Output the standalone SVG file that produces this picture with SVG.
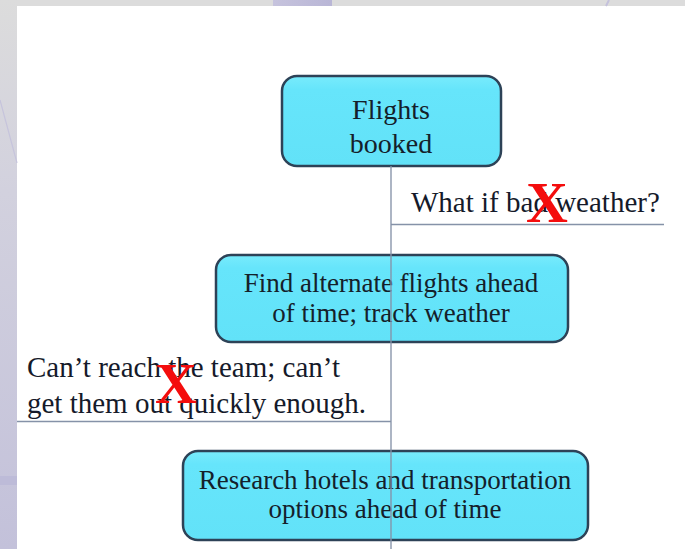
<svg xmlns="http://www.w3.org/2000/svg" width="685" height="549" viewBox="0 0 685 549">
  <defs>
    <linearGradient id="side" x1="0" y1="0" x2="0" y2="1">
      <stop offset="0" stop-color="#dcdcdc"/>
      <stop offset="0.35" stop-color="#d2d1de"/>
      <stop offset="1" stop-color="#c3c1da"/>
    </linearGradient>
    <linearGradient id="boxfill" x1="0" y1="0" x2="0" y2="1">
      <stop offset="0" stop-color="#78ebfc"/>
      <stop offset="0.15" stop-color="#66e5fb"/>
      <stop offset="1" stop-color="#62e2f8"/>
    </linearGradient>
    <linearGradient id="band" x1="0" y1="0" x2="1" y2="0">
      <stop offset="0" stop-color="#c6c3dd"/>
      <stop offset="1" stop-color="#b9b6d6"/>
    </linearGradient>
  </defs>
  <style>
    .box { fill: url(#boxfill); stroke: #2d4257; stroke-width: 2.5; }
    .btxt { font-family: "Liberation Serif", "Times New Roman", serif; font-size: 27px; fill: #14202a; text-anchor: middle; }
    .ltxt { font-family: "Liberation Serif", "Times New Roman", serif; font-size: 29px; fill: #151a2a; }
    .x { font-family: "Liberation Serif", "Times New Roman", serif; font-weight: bold; font-size: 58px; fill: #f40d0d; text-anchor: middle; }
    .conn { stroke: #8592a8; stroke-width: 1.6; fill: none; }
  </style>

  <!-- slide background -->
  <rect x="0" y="0" width="685" height="549" fill="#ffffff"/>
  <rect x="0" y="0" width="685" height="6" fill="#dcdcdc"/>
  <rect x="273" y="0" width="59" height="6" fill="url(#band)"/>
  <line x1="609" y1="0" x2="606" y2="6" stroke="#c4c1dc" stroke-width="2"/>
  <rect x="0" y="0" width="17" height="549" fill="url(#side)"/>
  <line x1="0" y1="100" x2="17" y2="163" stroke="#c6c4dc" stroke-width="1.2"/>
  <rect x="0" y="476" width="17" height="9" fill="#bdbbd8"/>

  <g id="node-flights-booked">
    <rect class="box" x="282" y="76" width="219" height="90" rx="15" ry="15"/>
    <text class="btxt" x="391" y="119" style="font-size:28px">Flights</text>
    <text class="btxt" x="391" y="153" style="font-size:28px">booked</text>
  </g>

  <g id="node-alternate-flights">
    <rect class="box" x="216" y="255" width="352" height="87" rx="15" ry="15"/>
    <text class="btxt" x="391" y="292">Find alternate flights ahead</text>
    <text class="btxt" x="391" y="322">of time; track weather</text>
  </g>

  <g id="node-research-hotels">
    <rect class="box" x="183" y="451" width="405" height="89" rx="15" ry="15"/>
    <text class="btxt" x="385" y="489">Research hotels and transportation</text>
    <text class="btxt" x="385" y="518">options ahead of time</text>
  </g>

  <g id="connectors">
    <line class="conn" x1="391" y1="166" x2="391" y2="549" stroke-opacity="0.85"/>
    <line class="conn" x1="391" y1="224.5" x2="664" y2="224.5"/>
    <line class="conn" x1="17" y1="421.5" x2="391" y2="421.5"/>
  </g>

  <g id="risk-bad-weather">
    <text class="ltxt" x="411" y="212">What if bad weather?</text>
    <text class="x" x="547" y="222">X</text>
  </g>

  <g id="risk-team">
    <text class="ltxt" x="27" y="377">Can’t reach the team; can’t</text>
    <text class="ltxt" x="27" y="413">get them out quickly enough.</text>
    <text class="x" x="176" y="403">X</text>
  </g>
</svg>
